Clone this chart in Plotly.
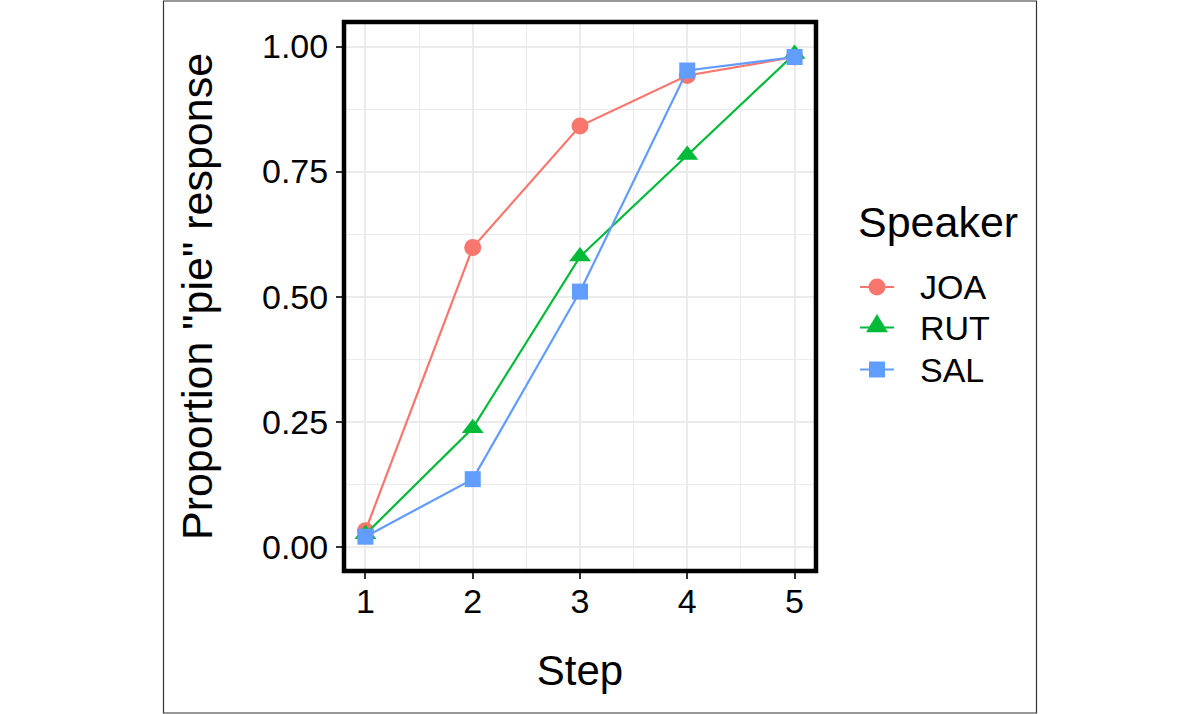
import math
import plotly.graph_objects as go

steps = [1, 2, 3, 4, 5]
speakers = ["JOA", "RUT", "SAL"]
joa = [0.032, 0.598, 0.841, 0.942, 0.979]
rut = [0.025, 0.237, 0.580, 0.783, 0.985]
sal = [0.020, 0.135, 0.510, 0.952, 0.979]
series = [joa, rut, sal]
colors = ["#F8766D", "#00BA38", "#619CFF"]
symbols = ["circle", "triangle-up", "square"]
sizes = [17, 19, 16]

W, H = 1200, 714
L, R, T, B = 344, 384, 22, 143
pw, ph = W - L - R, H - T - B
FONT = "Liberation Sans, Arial, Helvetica, sans-serif"


def px(xpage):
    return (xpage - L) / pw


def py(ypage):
    return 1 - (ypage - T) / ph


fig = go.Figure()
for name, vals, c, s, sz in zip(speakers, series, colors, symbols, sizes):
    fig.add_trace(go.Scatter(
        x=steps, y=vals, name=name, mode="lines+markers",
        line=dict(color=c, width=2.2),
        marker=dict(color=c, symbol=s, size=sz, line=dict(width=0)),
        showlegend=False,
    ))

# manual legend (ggplot style: title, key with line + point, label)
shapes = []
annotations = [dict(
    text="Speaker", xref="paper", yref="paper", x=px(856), y=py(222),
    xanchor="left", yanchor="middle", showarrow=False, font=dict(size=43),
)]
item_y = [287, 327.5, 369.5]
key_x = 877
for name, c, s, sz, yy in zip(speakers, colors, symbols, sizes, item_y):
    shapes.append(dict(type="line", xref="paper", yref="paper",
                       x0=px(key_x - 17), x1=px(key_x + 17), y0=py(yy), y1=py(yy),
                       line=dict(color=c, width=2.2)))
    r = sz / 2
    common = dict(xref="paper", yref="paper", xsizemode="pixel", ysizemode="pixel",
                  xanchor=px(key_x), yanchor=py(yy), fillcolor=c, line=dict(width=0))
    if s == "circle":
        shapes.append(dict(type="circle", x0=-r, x1=r, y0=-r, y1=r, **common))
    elif s == "square":
        shapes.append(dict(type="rect", x0=-r, x1=r, y0=-r, y1=r, **common))
    else:
        rt = r * 2 / math.sqrt(3)
        r2 = r / 2
        rs = r * math.sqrt(2)
        path = f"M{-rt:.2f},{-r2:.2f} L{rt:.2f},{-r2:.2f} L0,{rs:.2f} Z"
        shapes.append(dict(type="path", path=path, **common))
    annotations.append(dict(
        text=name, xref="paper", yref="paper", x=px(918), y=py(yy),
        xanchor="left", yanchor="middle", showarrow=False, font=dict(size=34),
    ))

shapes += [
    dict(type="rect", xref="paper", yref="paper", x0=0, x1=1, y0=0, y1=1,
         line=dict(color="black", width=4.5), layer="above"),
    dict(type="rect", xref="paper", yref="paper",
         x0=px(163.5), x1=px(1036.5), y0=py(713), y1=py(1),
         line=dict(color="#333333", width=1.2), layer="below"),
]

grid = "#EBEBEB"
fig.update_layout(
    width=W, height=H,
    margin=dict(l=L, r=R, t=T, b=B),
    paper_bgcolor="white", plot_bgcolor="white",
    font=dict(family=FONT, color="black"),
    showlegend=False,
    xaxis=dict(
        range=[0.8, 5.2], tickvals=steps, ticktext=[str(s) for s in steps],
        showgrid=True, gridcolor=grid, gridwidth=1.6,
        minor=dict(tickvals=[1.5, 2.5, 3.5, 4.5], showgrid=True, gridcolor=grid, gridwidth=0.9),
        ticks="outside", ticklen=7, tickwidth=1.5, tickcolor="#333333",
        tickfont=dict(size=34, color="black"), ticklabelstandoff=-7,
        title=dict(text="Step", font=dict(size=42), standoff=36),
        zeroline=False, showline=False, fixedrange=True,
    ),
    yaxis=dict(
        range=[-0.0486, 1.049], tickvals=[0, 0.25, 0.5, 0.75, 1.0],
        ticktext=["0.00", "0.25", "0.50", "0.75", "1.00"],
        showgrid=True, gridcolor=grid, gridwidth=1.6,
        minor=dict(tickvals=[0.125, 0.375, 0.625, 0.875], showgrid=True, gridcolor=grid, gridwidth=0.9),
        ticks="outside", ticklen=7, tickwidth=1.5, tickcolor="#333333",
        tickfont=dict(size=34, color="black"), ticklabelstandoff=1,
        title=dict(text='Proportion "pie" response', font=dict(size=43), standoff=35),
        zeroline=False, showline=False, fixedrange=True,
    ),
    shapes=shapes,
    annotations=annotations,
)

fig.write_html("out.html", config={"displayModeBar": False},
               post_script="document.body.style.margin='0';")
